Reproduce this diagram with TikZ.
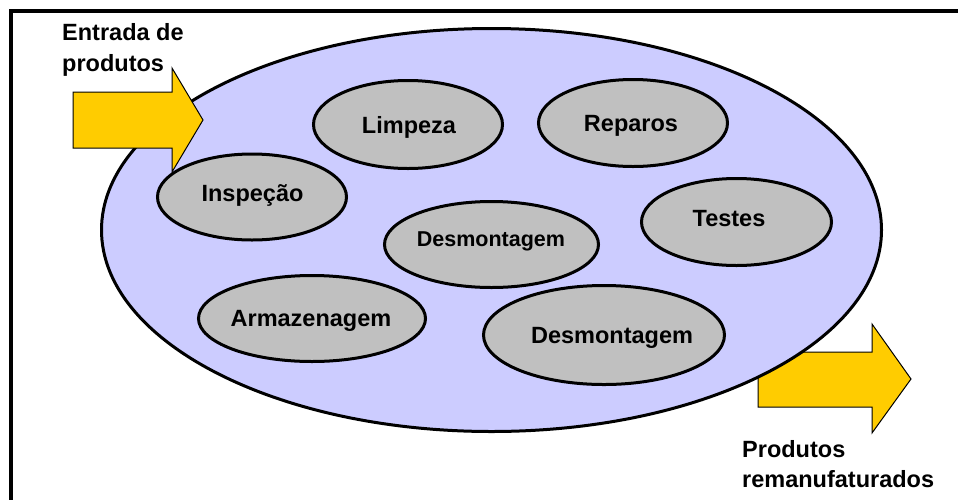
\documentclass[tikz,border=0pt]{standalone}
\usepackage{fontspec}
\setmainfont{Liberation Sans}
\usetikzlibrary{shapes.geometric}
\definecolor{cellfill}{HTML}{CCCCFF}
\definecolor{procfill}{HTML}{C0C0C0}
\definecolor{arrowfill}{HTML}{FFCC00}
\tikzset{
  proc/.style={ellipse, draw=black, line width=3pt, fill=procfill, inner sep=0pt},
  lbl/.style={font=\fontsize{23.5}{31}\selectfont\bfseries, inner sep=0pt, anchor=base},
  sidelbl/.style={font=\fontsize{23.5}{31}\selectfont\bfseries, inner sep=0pt, anchor=base west},
  blockarrow/.style={draw=black, line width=1pt, fill=arrowfill, line join=miter},
}
\begin{document}
\begin{tikzpicture}[x=1pt,y=-1pt]
\useasboundingbox (0,0) rectangle (958,499);
% frame
\draw[line width=4pt, line join=miter] (11,530) -- (11,11) -- (990,11);
% output arrow (behind the cell)
\draw[blockarrow] (758,352) -- (872,352) -- (872,324) -- (911,379) -- (872,433) -- (872,407) -- (758,407) -- cycle;
% big cell
\node[ellipse, draw=black, line width=3pt, fill=cellfill, inner sep=0pt,
      minimum width=780pt, minimum height=403pt] (cell) at (491.5,230) {};
% input arrow
\draw[blockarrow] (73,92) -- (172,92) -- (172,68) -- (203,120) -- (172,172) -- (172,148) -- (73,148) -- cycle;
% processes
\node[proc, minimum width=189pt, minimum height=88pt] (limp) at (408,124.5) {};
\node[proc, minimum width=189pt, minimum height=87pt] (rep) at (633,123) {};
\node[proc, minimum width=189pt, minimum height=86pt] (insp) at (252,197) {};
\node[proc, minimum width=190pt, minimum height=87pt] (test) at (736.5,222) {};
\node[proc, minimum width=214pt, minimum height=86pt] (desmA) at (491.5,244.5) {};
\node[proc, minimum width=227pt, minimum height=86pt] (arm) at (312,318.5) {};
\node[proc, minimum width=241pt, minimum height=99pt] (desmB) at (604,335) {};
% labels
\node[lbl] (limpT) at (409,133) {Limpeza};
\node[lbl] (repT) at (631,131.7) {Reparos};
\node[lbl] (inspT) at (252.5,201.7) {Inspeção};
\node[lbl] (testT) at (729,226.7) {Testes};
\node[lbl, font=\fontsize{21.5}{26}\selectfont\bfseries] (desmAT) at (491,246) {Desmontagem};
\node[lbl] (armT) at (311,326.7) {Armazenagem};
\node[lbl] (desmBT) at (612,343) {Desmontagem};
% side texts
\node[sidelbl] (in1) at (62,40) {Entrada de};
\node[sidelbl] (in2) at (62,71) {produtos};
\node[sidelbl] (out1) at (742,457) {Produtos};
\node[sidelbl] (out2) at (742,487) {remanufaturados};
\end{tikzpicture}
\end{document}
